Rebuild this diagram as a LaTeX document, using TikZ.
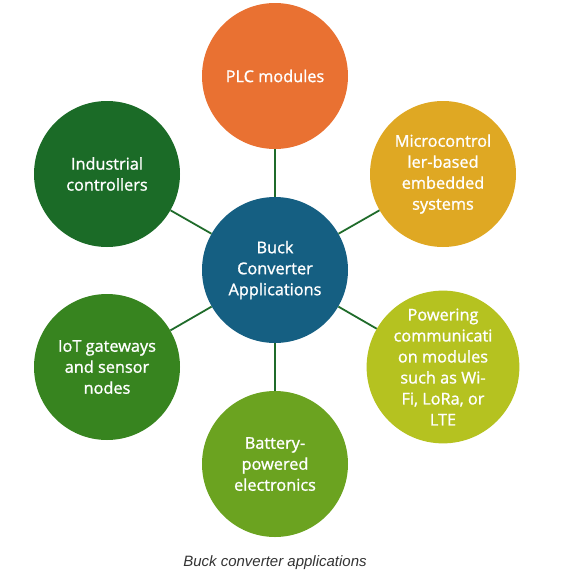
\documentclass[tikz,border=0pt]{standalone}
\usepackage{fontspec}
\setmainfont{Open Sans}
\newfontfamily\appfont[FakeBold=1.2]{Open Sans}
\newfontfamily\capfont{Liberation Sans}
\usepackage{tikz}
\usetikzlibrary{positioning,shapes}
\definecolor{hubblue}{HTML}{155F82}
\definecolor{plcorange}{HTML}{E97132}
\definecolor{mcugold}{HTML}{DFA823}
\definecolor{inddark}{HTML}{1B6B27}
\definecolor{iotgreen}{HTML}{37841F}
\definecolor{batgreen}{HTML}{6BA320}
\definecolor{comlime}{HTML}{B5C220}
\definecolor{linkgreen}{HTML}{1F6B2A}
\definecolor{capgray}{HTML}{333333}
\tikzstyle{app} = [circle, minimum size=146pt, inner sep=0pt, align=center, text=white, font=\appfont\fontsize{16.3}{21}\selectfont]
\tikzstyle{link} = [line width=1.8pt, draw=linkgreen]
\begin{document}
\begin{tikzpicture}[x=1pt,y=-1pt]
 \useasboundingbox (0,0) rectangle (574,576);
 \node[app,fill=hubblue] (hub) at (275,270)
              {Buck\\Converter\\Applications};
 \node[app,fill=plcorange] (plc) at (hub) [xshift=0pt,yshift=194pt]
              {PLC modules};
 \node[app,fill=mcugold] (mcu) at (hub) [xshift=168pt,yshift=96pt]
              {Microcontrol\\ler-based\\embedded\\systems};
 \node[app,fill=inddark] (ind) at (hub) [xshift=-168pt,yshift=96pt]
              {Industrial\\controllers};
 \node[app,fill=iotgreen] (iot) at (hub) [xshift=-168pt,yshift=-97pt]
              {IoT gateways\\and sensor\\nodes};
 \node[app,fill=comlime] (com) at (hub) [xshift=168pt,yshift=-97pt]
              {Powering\\communicati\\on modules\\such as Wi-\\Fi, LoRa, or\\LTE};
 \node[app,fill=batgreen] (bat) at (hub) [xshift=0pt,yshift=-194pt]
              {Battery-\\powered\\electronics};
 \node[anchor=base,text=capgray,font=\capfont\itshape\fontsize{15}{18}\selectfont] (caption) at (275,566.5)
              {Buck converter applications};
% links
 \draw[link] (hub) -- (plc);
 \draw[link] (hub) -- (mcu);
 \draw[link] (hub) -- (ind);
 \draw[link] (hub) -- (iot);
 \draw[link] (hub) -- (com);
 \draw[link] (hub) -- (bat);
\end{tikzpicture}
\end{document}
